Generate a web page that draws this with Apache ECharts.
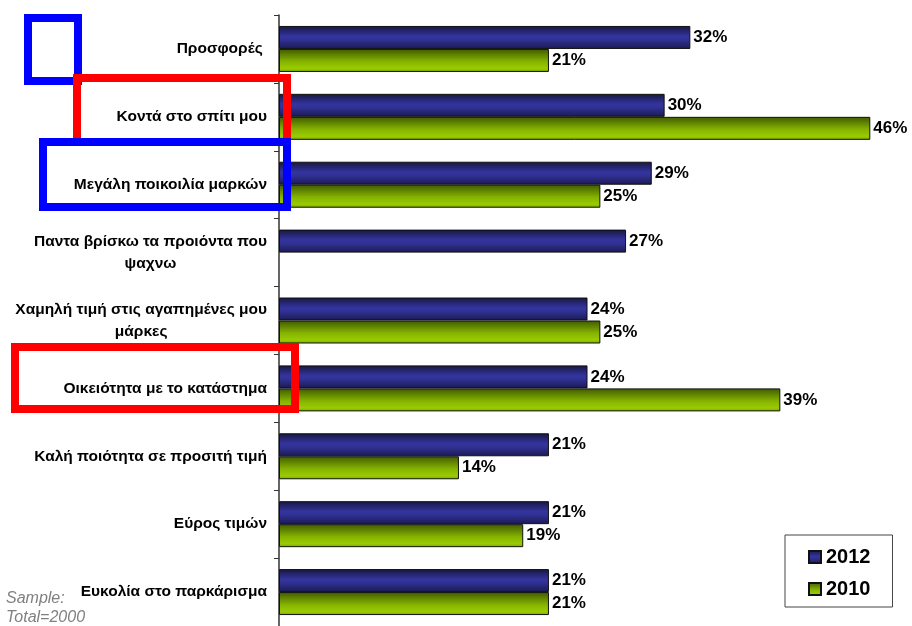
<!DOCTYPE html>
<html>
<head>
<meta charset="utf-8">
<script src="https://cdn.jsdelivr.net/npm/echarts@6/dist/echarts.min.js"></script>
<style>
  html, body { margin: 0; padding: 0; background: #ffffff; }
  #chart { width: 912px; height: 626px; }
</style>
</head>
<body>
<div id="chart"></div>
<script>
// Reasons for choosing a store, share of respondents (%)
const categories = [
  'Προσφορές ',
  'Κοντά στο σπίτι μου',
  'Μεγάλη ποικοιλία μαρκών',
  'Παντα βρίσκω τα προιόντα που\nψαχνω',
  'Χαμηλή τιμή στις αγαπημένες μου\nμάρκες',
  'Οικειότητα με το κατάστημα',
  'Καλή ποιότητα σε προσιτή τιμή',
  'Εύρος τιμών',
  'Ευκολία στο παρκάρισμα'
];
const values2012 = [32, 30, 29, 27, 24, 24, 21, 21, 21];
const values2010 = [21, 46, 25, null, 25, 39, 14, 19, 21];
const seriesNames = ['2012', '2010'];

const FONT = 'Liberation Sans, Arial, sans-serif';

const blueFill = new echarts.graphic.LinearGradient(0, 0, 0, 1, [
  { offset: 0, color: '#17173f' },
  { offset: 0.45, color: '#3434a0' },
  { offset: 0.6, color: '#313194' },
  { offset: 1, color: '#1a1a52' }
]);
const greenFill = new echarts.graphic.LinearGradient(0, 0, 0, 1, [
  { offset: 0, color: '#3f5a00' },
  { offset: 0.55, color: '#86b300' },
  { offset: 0.85, color: '#99cc00' },
  { offset: 1, color: '#7fa800' }
]);

const labelStyle = {
  show: true,
  position: 'right',
  distance: 3,
  color: '#000',
  fontFamily: FONT,
  fontWeight: 'bold',
  fontSize: 17,
  formatter: p => p.value + '%'
};

const chart = echarts.init(document.getElementById('chart'));
chart.setOption({
  animation: false,
  backgroundColor: '#ffffff',
  grid: { left: 279, right: 16, top: 15, bottom: 0 },
  xAxis: { type: 'value', min: 0, max: 48, show: false },
  yAxis: {
    type: 'category',
    inverse: true,
    data: categories,
    axisLine: { show: true, lineStyle: { color: '#333333', width: 1.5 } },
    axisTick: { show: true, length: 5, lineStyle: { color: '#333333' } },
    axisLabel: {
      margin: 12,
      color: '#000',
      fontFamily: FONT,
      fontWeight: 'bold',
      fontSize: 15.5,
      lineHeight: 22,
      formatter: v => v.includes('\n')
        ? v.split('\n').map(s => '{c|' + s + '}').join('\n')
        : v,
      rich: {
        c: {
          align: 'center',
          color: '#000',
          fontFamily: FONT,
          fontWeight: 'bold',
          fontSize: 15.5,
          lineHeight: 22
        }
      }
    },
    splitLine: { show: false }
  },
  legend: {
    orient: 'vertical',
    left: 785,
    top: 535,
    data: seriesNames,
    icon: 'rect',
    backgroundColor: '#ffffff',
    borderColor: '#444',
    borderWidth: 1,
    padding: [12, 22, 8, 23],
    itemWidth: 12,
    itemHeight: 12,
    itemGap: 12,
    textStyle: {
      color: '#000',
      fontFamily: FONT,
      fontWeight: 'bold',
      fontSize: 20
    }
  },
  series: [
    {
      name: seriesNames[0],
      type: 'bar',
      data: values2012,
      barWidth: 23,
      barGap: '0%',
      itemStyle: { color: blueFill, borderColor: '#111', borderWidth: 1 },
      label: labelStyle
    },
    {
      name: seriesNames[1],
      type: 'bar',
      data: values2010,
      barWidth: 23,
      barGap: '0%',
      itemStyle: { color: greenFill, borderColor: '#111', borderWidth: 1 },
      label: labelStyle
    }
  ],
  graphic: [
    {
      type: 'text',
      left: 6,
      top: 589,
      z: 10,
      style: {
        text: 'Sample:\nTotal=2000',
        fill: '#808080',
        fontFamily: FONT,
        fontStyle: 'italic',
        fontSize: 16,
        lineHeight: 19
      }
    },
    // highlight frames around selected reasons
    { type: 'rect', z: 20, shape: { x: 28, y: 18, width: 50, height: 63 },
      style: { fill: null, stroke: '#0000ff', lineWidth: 8 } },
    { type: 'rect', z: 21, shape: { x: 77, y: 78, width: 210, height: 64 },
      style: { fill: null, stroke: '#ff0000', lineWidth: 8 } },
    { type: 'rect', z: 22, shape: { x: 43, y: 142, width: 244, height: 65 },
      style: { fill: null, stroke: '#0000ff', lineWidth: 8 } },
    { type: 'rect', z: 23, shape: { x: 15, y: 347, width: 280, height: 62 },
      style: { fill: null, stroke: '#ff0000', lineWidth: 8 } }
  ]
});
</script>
</body>
</html>
